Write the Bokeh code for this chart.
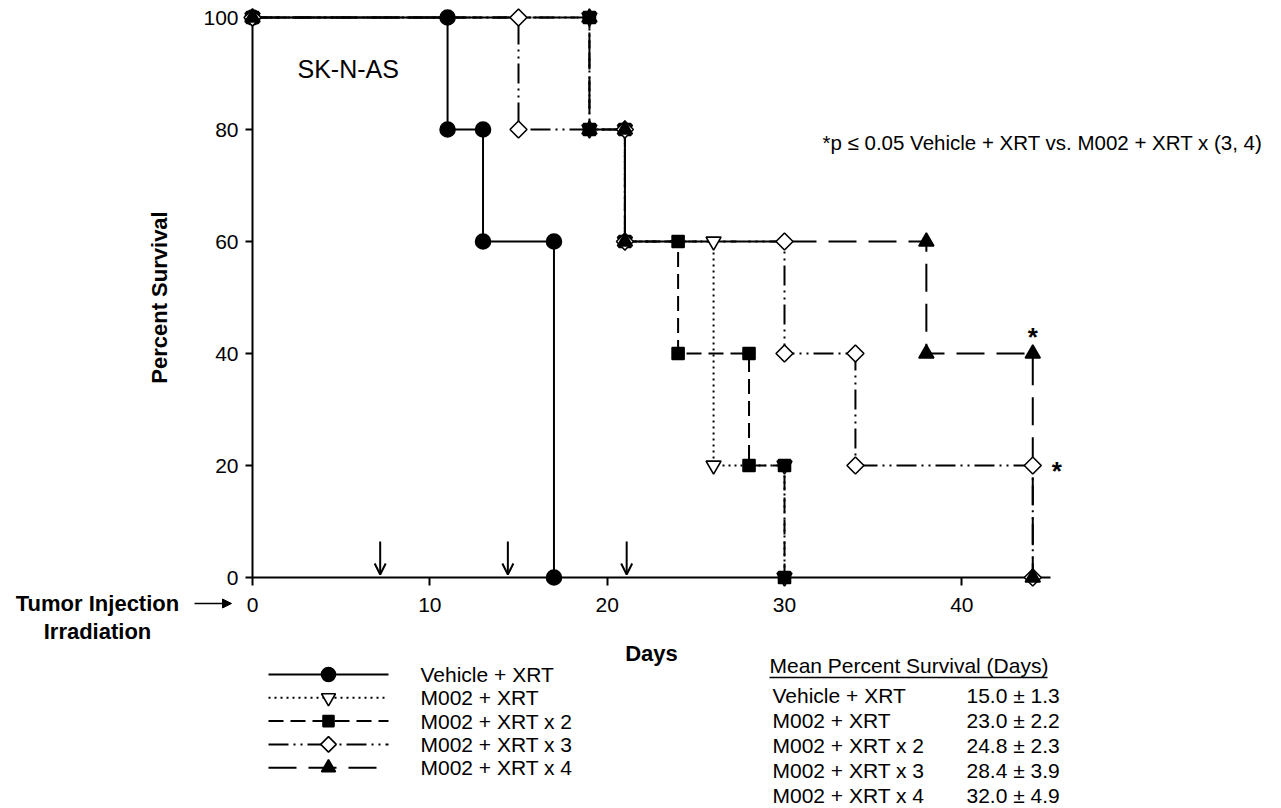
import math
from bokeh.plotting import figure
from bokeh.models import (Label, Arrow, OpenHead, NormalHead,
                          FixedTicker, Range1d, ColumnDataSource, LinearAxis)
from bokeh.embed import file_html
from bokeh.resources import INLINE

# ---------------- data ----------------
groups = ["Vehicle + XRT", "M002 + XRT", "M002 + XRT x 2", "M002 + XRT x 3", "M002 + XRT x 4"]

days_vehicle = [0, 11, 11, 13, 13, 17, 17]
surv_vehicle = [100, 100, 80, 80, 60, 60, 0]

days_m002 = [0, 19, 19, 21, 21, 26, 26, 30, 30]
surv_m002 = [100, 100, 80, 80, 60, 60, 20, 20, 0]

days_m002_x2 = [0, 19, 19, 21, 21, 24, 24, 28, 28, 30, 30]
surv_m002_x2 = [100, 100, 80, 80, 60, 60, 40, 40, 20, 20, 0]

days_m002_x3 = [0, 15, 15, 21, 21, 30, 30, 34, 34, 44, 44]
surv_m002_x3 = [100, 100, 80, 80, 60, 60, 40, 40, 20, 20, 0]

days_m002_x4 = [0, 19, 19, 21, 21, 38, 38, 44, 44]
surv_m002_x4 = [100, 100, 80, 80, 60, 60, 40, 40, 0]

irradiation_days = [7.2, 14.4, 21.1]
x_ticks = [0, 10, 20, 30, 40]
y_ticks = [0, 20, 40, 60, 80, 100]
mean_survival = ["15.0 \u00b1 1.3", "23.0 \u00b1 2.2", "24.8 \u00b1 2.3", "28.4 \u00b1 3.9", "32.0 \u00b1 4.9"]
star_points_x = [44, 44]
star_points_y = [40, 20]

# ---------------- layout / styles ----------------
FONT = "Liberation Sans"
W, H = 1281, 808
FL, FR, FT, FB = 252, 1050, 17, 577   # axis box in canvas pixels
XMAX, YMAX = 45, 100
KX = (FR - FL) / XMAX
KY = (FB - FT) / YMAX


def px_x(px):
    return (px - FL) / KX


def px_y(py):
    return (FB - py) / KY


styles = [
    dict(dash="solid", marker="circle", size=15, fill="black", angle=0),
    dict(dash="2 4", marker="inverted_triangle", size=15, fill="white", angle=0),
    dict(dash="15 7", marker="square", size=12, fill="black", angle=0),
    dict(dash="20 5 2 5 2 5", marker="square", size=12, fill="white", angle=math.pi / 4),
    dict(dash="28 12", marker="triangle", size=15, fill="black", angle=0),
]
series = [
    (days_vehicle, surv_vehicle),
    (days_m002, surv_m002),
    (days_m002_x2, surv_m002_x2),
    (days_m002_x3, surv_m002_x3),
    (days_m002_x4, surv_m002_x4),
]

p = figure(width=W, height=H,
           x_range=Range1d(px_x(0), px_x(W)), y_range=Range1d(px_y(H), px_y(0)),
           x_axis_type=None, y_axis_type=None,
           output_backend="svg", toolbar_location=None,
           min_border_left=0, min_border_right=0, min_border_top=0, min_border_bottom=0)
p.grid.visible = False
p.outline_line_color = None
p.background_fill_color = "white"
p.border_fill_color = "white"

xaxis = LinearAxis(fixed_location=0, bounds=(0, XMAX), ticker=FixedTicker(ticks=x_ticks),
                   axis_label="Days")
yaxis = LinearAxis(fixed_location=0, bounds=(0, YMAX), ticker=FixedTicker(ticks=y_ticks),
                   axis_label="Percent Survival")
for ax in (xaxis, yaxis):
    ax.level = "underlay"
    ax.axis_line_width = 2
    ax.axis_line_color = "black"
    ax.major_tick_line_width = 2
    ax.major_tick_line_color = "black"
    ax.major_tick_in = 0
    ax.minor_tick_line_color = None
    ax.major_label_text_font = FONT
    ax.major_label_text_color = "black"
    ax.major_label_text_font_size = "21px"
    ax.axis_label_text_font = FONT
    ax.axis_label_text_font_style = "bold"
    ax.axis_label_text_color = "black"
    ax.axis_label_text_font_size = "22px"
xaxis.major_tick_out = 8
yaxis.major_tick_out = 7
xaxis.major_label_standoff = 12
yaxis.major_label_standoff = 7
xaxis.axis_label_standoff = 26
yaxis.axis_label_standoff = 28
p.add_layout(xaxis, "below")
p.add_layout(yaxis, "left")

line_rs = []
for (d, s), st in zip(series, styles):
    src = ColumnDataSource(dict(x=d, y=s))
    p.line("x", "y", source=src, line_color="black", line_width=2, line_dash=st["dash"])
    line_rs.append(src)
for src, st in zip(line_rs, styles):
    p.scatter("x", "y", source=src, marker=st["marker"], size=st["size"],
              fill_color=st["fill"], line_color="black", line_width=1.6,
              angle=st["angle"])


def add_text(px, py, text, size, bold=False, align="left", baseline="middle"):
    p.add_layout(Label(x=px_x(px), y=px_y(py), text=text, text_font=FONT,
                       text_font_size=size, text_font_style="bold" if bold else "normal",
                       text_align=align, text_baseline=baseline, text_color="black"))


# legend below the chart (line sample + marker + label)
for i, (g, st) in enumerate(zip(groups, styles)):
    ry = 674 + 23.3 * i
    p.line([px_x(268), px_x(388)], [px_y(ry), px_y(ry)], line_color="black",
           line_width=2, line_dash=st["dash"])
    p.scatter([px_x(328)], [px_y(ry)], marker=st["marker"], size=st["size"] - 1,
              fill_color=st["fill"], line_color="black", line_width=1.6, angle=st["angle"])
    add_text(420, ry, g, "21px")

add_text(297, 68, "SK-N-AS", "25px")
add_text(822, 142, "*p \u2264 0.05 Vehicle + XRT vs. M002 + XRT x (3, 4)", "20.5px")

# significance stars
for sx, sy, ox, oy in zip(star_points_x, star_points_y, [0, 24], [17, -5]):
    p.add_layout(Label(x=sx, y=sy, x_offset=ox, y_offset=oy, text="*",
                       text_font=FONT, text_font_size="26px", text_font_style="bold",
                       text_align="center", text_baseline="middle", text_color="black"))

# irradiation arrows
for d in irradiation_days:
    p.add_layout(Arrow(x_start=d, y_start=px_y(541), x_end=d, y_end=px_y(574),
                       line_width=2, line_color="black",
                       end=OpenHead(size=11, line_width=2, line_color="black")))

# tumor injection annotation
add_text(97, 603, "Tumor Injection", "22px", bold=True, align="center")
add_text(97, 631, "Irradiation", "22px", bold=True, align="center")
p.add_layout(Arrow(x_start=px_x(194), y_start=px_y(603), x_end=px_x(231), y_end=px_y(603),
                   line_width=1.5, line_color="black",
                   end=NormalHead(size=9, fill_color="black", line_color="black")))

# mean survival table
add_text(769, 665, "Mean Percent Survival (Days)", "21px")
p.add_layout(Arrow(x_start=px_x(769), y_start=px_y(677), x_end=px_x(1047), y_end=px_y(677),
                   line_width=1.5, line_color="black", end=None))
for i, (g, m) in enumerate(zip(groups, mean_survival)):
    yy = 695 + 25 * i
    add_text(772, yy, g, "21px")
    add_text(966, yy, m, "21px")

open("out.html", "w").write(file_html(p, INLINE))
